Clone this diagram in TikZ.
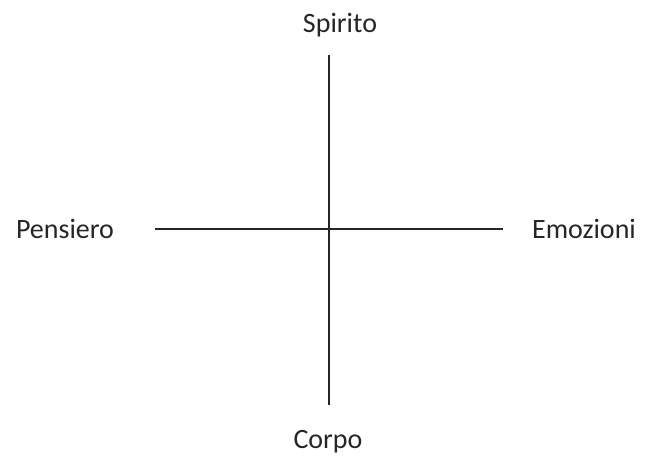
\documentclass[tikz,border=0pt]{standalone}
\usepackage{fontspec}
\setmainfont{Carlito}

\begin{document}
\begin{tikzpicture} [x=1pt,y=-1pt]
	\def \ep {2.8pt}%epaisseur des axes
	\tikzset{etiq/.style={anchor=base,font=\fontsize{28}{30}\selectfont,text=black!85}}
	\useasboundingbox (0,0) rectangle (652,455);
	% axes
	\coordinate (haut) at (329,55);
	\coordinate (bas) at (329,405);
	\coordinate (gauche) at (155,229);
	\coordinate (droite) at (503,229);
	\draw[line width=\ep,black!85] (haut) -- (bas);
	\draw[line width=2.4pt,black!85] (gauche) -- (droite);
	% legende
	\node[etiq] (spirito) at (340,32) {Spirito};
	\node[etiq] (corpo) at (328,448) {Corpo};
	\node[etiq] (pensiero) at (65,238) {Pensiero};
	\node[etiq] (emozioni) at (584,238) {Emozioni};
\end{tikzpicture}
\end{document}
